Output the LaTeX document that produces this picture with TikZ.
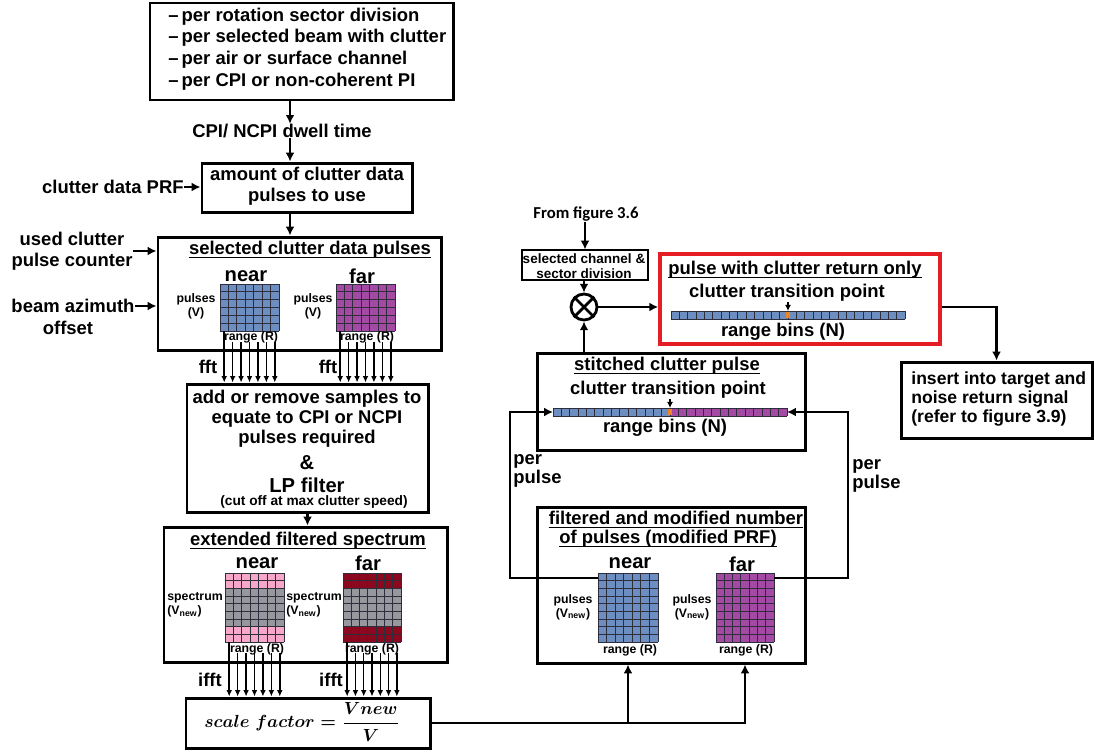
\documentclass[tikz,border=0pt]{standalone}
\usepackage{amsmath}
\usepackage{fontspec}
\setmainfont{Liberation Sans}
\newfontfamily\calfont{Carlito}
\usetikzlibrary{arrows.meta,fit,calc}

\definecolor{nearblue}{RGB}{108,142,192}
\definecolor{farpurple}{RGB}{164,74,164}
\definecolor{specpink}{RGB}{247,168,200}
\definecolor{specgray}{RGB}{150,152,158}
\definecolor{specred}{RGB}{140,8,30}
\definecolor{markorange}{RGB}{240,130,40}
\definecolor{boxred}{RGB}{228,30,36}
\definecolor{cellline}{RGB}{45,45,60}

% grid of cells: x0, y0, x1, y1, columns, rows
\newcommand\cellgrid[6]{%
  \foreach \k in {0,...,#5}
    \draw[cell] ({#1+(#3-#1)*\k/#5},#2) -- ({#1+(#3-#1)*\k/#5},#4);
  \foreach \k in {0,...,#6}
    \draw[cell] (#1,{#2+(#4-#2)*\k/#6}) -- (#3,{#2+(#4-#2)*\k/#6});
}
% rule under a title node, just below its baseline
\newcommand\titlerule[1]{%
  \draw[line width=0.8pt] ($(#1.base west)+(0,2.6)$) -- ($(#1.base east)+(0,2.6)$);
}
\newcommand\scaleformula{$scale\;factor=\dfrac{Vnew}{V}$}

\begin{document}
\begin{tikzpicture}[x=0.02cm,y=-0.02cm,
  box/.style={draw, line width=1.7pt, inner sep=0pt},
  lbl/.style={font=\bfseries\fontsize{10.5}{11.8}\selectfont, inner sep=0pt, align=center},
  tiny/.style={font=\bfseries\fontsize{7}{7.8}\selectfont, inner sep=0pt, align=center},
  big/.style={font=\bfseries\fontsize{11.5}{13}\selectfont, inner sep=0pt},
  mathtxt/.style={font=\fontsize{9.6}{11}\selectfont\boldmath, inner sep=0pt},
  arr/.style={line width=1.2pt, -{Latex[length=5pt,width=5pt]}},
  farr/.style={line width=0.85pt, -{Latex[length=3.6pt,width=3.2pt]}},
  sarr/.style={line width=1pt, -{Latex[length=3.5pt,width=3.5pt]}},
  cell/.style={line width=0.45pt, draw=cellline},
  gridbox/.style={inner sep=0pt, outer sep=0pt},
]
\useasboundingbox (0,0) rectangle (1094,751);

% ---------------- left column ----------------
\node[box, fit={(150,3) (453,100)}] (top) {};
\node[lbl, anchor=west, align=left, font=\bfseries\fontsize{10.5}{12.3}\selectfont] (toptxt) at (168,49) {–\,per rotation sector division\\–\,per selected beam with clutter\\–\,per air or surface channel\\–\,per CPI or non-coherent PI};

\coordinate (spine) at (290,0);
\node[lbl] (dwell) at (282,131) {CPI/ NCPI dwell time};
\draw[arr] (top.south -| spine) -- (dwell.north -| spine);

\node[box, fit={(202,163) (412,212)}] (amount) {};
\node[lbl] (amounttxt) at (307,186) {amount of clutter data\\pulses to use};
\draw[arr] (dwell.south -| spine) -- (amount.north -| spine);

\node[lbl, anchor=east] (prf) at (184,187) {clutter data PRF};
\draw[arr] (prf.east) -- (prf.east -| amount.west);

% selected clutter data pulses
\node[box, fit={(158,237) (441,350)}] (sel) {};
\draw[arr] (amount.south -| spine) -- (sel.north -| spine);
\node[lbl] (seltitle) at (310,250) {selected clutter data pulses};
\titlerule{seltitle}
\node[big] (selnear) at (246,276) {near};
\node[big] (selfar) at (362,276) {far};

\fill[nearblue] (220,284) rectangle (279,331);
\cellgrid{220}{284}{279}{331}{7}{6}
\node[gridbox, fit={(220,284) (279,331)}] (g1) {};
\fill[farpurple] (336,284) rectangle (395,331);
\cellgrid{336}{284}{395}{331}{7}{6}
\node[gridbox, fit={(336,284) (395,331)}] (g2) {};

\node[tiny] (p1) at (196,306) {pulses\\(V)};
\node[tiny] (p2) at (313,306) {pulses\\(V)};
\node[tiny] (r1) at (251,337) {range (R)};
\node[tiny] (r2) at (367,337) {range (R)};

\node[lbl] (ucpc) at (72,251) {used clutter\\pulse counter};
\draw[arr] (ucpc.east) -- (ucpc.east -| sel.west);
\node[lbl] (beam) at (73,306) {beam azimuth};
\node[lbl] (offset) at (68,328) {offset};
\draw[arr] (beam.east) -- (beam.east -| sel.west);

% add / remove samples
\node[box, fit={(187,384) (428,512)}] (addrem) {};
\foreach \i/\dy in {0/0,1/11,2/11,3/11,4/11,5/11,6/11}{
  \coordinate (s) at ($(g1.south west)+({59/7*(\i+0.5)},\dy)$);
  \draw[farr] (s) -- (s |- addrem.north);
  \coordinate (s) at ($(g2.south west)+({59/7*(\i+0.5)},\dy)$);
  \draw[farr] (s) -- (s |- addrem.north);
}
\node[lbl] (fft1) at (208,367) {fft};
\node[lbl] (fft2) at (328,367) {fft};
\node[lbl, font=\bfseries\fontsize{10.5}{11.4}\selectfont] (ar1) at (307,419) {add or remove samples to\\equate to CPI or NCPI\\pulses required};
\node[lbl, font=\bfseries\fontsize{11.5}{13}\selectfont] (ar2) at (307,463) {\&};
\node[lbl, font=\bfseries\fontsize{11.5}{13}\selectfont] (ar3) at (307,485) {LP filter};
\node[lbl, font=\bfseries\fontsize{7.8}{9}\selectfont] (ar4) at (314,502) {(cut off at max clutter speed)};

% extended filtered spectrum
\node[box, fit={(164,527) (447,662)}] (ext) {};
\draw[arr] (addrem.south) -- (addrem.south |- ext.north);
\node[lbl] (exttitle) at (308,541) {extended filtered spectrum};
\titlerule{exttitle}
\node[big] (extnear) at (257,563) {near};
\node[big] (extfar) at (368,563) {far};

\fill[specgray] (225,573) rectangle (284,642);
\fill[specpink] (225,573) rectangle (284,588.33);
\fill[specpink] (225,626.67) rectangle (284,642);
\cellgrid{225}{573}{284}{642}{7}{9}
\node[gridbox, fit={(225,573) (284,642)}] (g3) {};
\fill[specgray] (343,573) rectangle (401,642);
\fill[specred] (343,573) rectangle (401,588.33);
\fill[specred] (343,626.67) rectangle (401,642);
\cellgrid{343}{573}{401}{642}{7}{9}
\node[gridbox, fit={(343,573) (401,642)}] (g4) {};

\node[tiny, anchor=west, align=left] (sp1) at (167,605) {spectrum\\(V\textsubscript{new})};
\node[tiny, anchor=west, align=left] (sp2) at (286,605) {spectrum\\(V\textsubscript{new})};
\node[tiny] (r3) at (257,649) {range (R)};
\node[tiny] (r4) at (372,649) {range (R)};

% scale factor
\node[box, fit={(186,698) (430,748)}] (scale) {};
\foreach \i/\dy in {0/0,1/11,2/11,3/11,4/11,5/11,6/11}{
  \coordinate (s) at ($(g3.south west)+({59/7*(\i+0.5)},\dy)$);
  \draw[farr] (s) -- (s |- scale.north);
  \coordinate (s) at ($(g4.south west)+({58/7*(\i+0.5)},\dy)$);
  \draw[farr] (s) -- (s |- scale.north);
}
\node[lbl] (ifft1) at (210,680) {ifft};
\node[lbl] (ifft2) at (331,680) {ifft};
\node[mathtxt] (scaletxt) at (302,722) {\scaleformula};

% ---------------- right column ----------------
\node[inner sep=0pt, font=\calfont\bfseries\fontsize{9.5}{11}\selectfont] (fig) at (586,214) {From figure 3.6};
\node[draw, line width=0.6pt, inner sep=0pt, fit={(522,250) (648,280)}] (chan) {};
\node[lbl, font=\bfseries\fontsize{7.7}{8.8}\selectfont] (chantxt) at (584,266) {selected channel \&\\sector division};
\draw[arr] (fig.south -| chan) -- (chan.north);

\node[circle, draw, line width=1.6pt, minimum size=0.52cm, inner sep=0pt] (mult) at (584,307) {};
\draw[line width=1.6pt] (mult.north east) -- (mult.south west) (mult.north west) -- (mult.south east);
\draw[arr] (chan.south -| mult) -- (mult.north);

% pulse with clutter return only
\node[draw=boxred, line width=2pt, inner sep=0pt, fit={(660,254) (940,344)}] (red) {};
\draw[arr] (mult.east) -- (mult.east -| red.west);
\node[lbl] (redtitle) at (795,270) {pulse with clutter return only};
\titlerule{redtitle}
\node[lbl] (tp1) at (787,293) {clutter transition point};
\fill[nearblue] (671,311) rectangle (905,319);
\cellgrid{671}{311}{905}{319}{28}{1}
\node[gridbox, fit={(671,311) (905,319)}] (bar1) {};
\draw[markorange, line width=1.8pt] (788,311.6) -- (788,318.4);
\coordinate (m1) at (788,311);
\draw[sarr] (tp1.south -| m1) -- (m1);
\node[lbl] (rb1) at (783,332) {range bins (N)};

% insert into return signal
\node[box, fit={(901,362) (1092,438)}] (ins) {};
\node[lbl, anchor=west, align=left, font=\bfseries\fontsize{10}{10.7}\selectfont] (instxt) at (911,399) {insert into target and\\noise return signal\\(refer to figure 3.9)};
\draw[arr] (red.east |- mult) -| (ins.north);

% stitched clutter pulse
\node[box, fit={(537,353) (805,450)}] (stitch) {};
\draw[arr] (stitch.north -| mult) -- (mult.south);
\node[lbl] (sttitle) at (667,366) {stitched clutter pulse};
\titlerule{sttitle}
\node[lbl] (tp2) at (668,390) {clutter transition point};
\fill[nearblue] (553,408) rectangle (670,416);
\fill[farpurple] (670,408) rectangle (787,416);
\cellgrid{553}{408}{787}{416}{28}{1}
\node[gridbox, fit={(553,408) (787,416)}] (bar2) {};
\draw[markorange, line width=1.8pt] (670,408.6) -- (670,415.4);
\coordinate (m2) at (670,408);
\draw[sarr] (tp2.south -| m2) -- (m2);
\node[lbl] (rb2) at (665,428) {range bins (N)};

% filtered and modified number of pulses
\node[box, fit={(537,507) (805,663)}] (filt) {};
\node[lbl] (ft1) at (676,518) {filtered and modified number};
\titlerule{ft1}
\node[lbl] (ft2) at (668,539) {of pulses (modified PRF)};
\titlerule{ft2}
\node[big] (fnear) at (630,563) {near};
\node[big] (ffar) at (742,564) {far};
\fill[nearblue] (598,573) rectangle (658,642);
\cellgrid{598}{573}{658}{642}{7}{9}
\node[gridbox, fit={(598,573) (658,642)}] (g5) {};
\fill[farpurple] (716,573) rectangle (774,642);
\cellgrid{716}{573}{774}{642}{7}{9}
\node[gridbox, fit={(716,573) (774,642)}] (g6) {};
\node[tiny] (p5) at (573,607) {pulses\\(V\textsubscript{new})};
\node[tiny] (p6) at (692,607) {pulses\\(V\textsubscript{new})};
\node[tiny] (r5) at (630,650) {range (R)};
\node[tiny] (r6) at (746,650) {range (R)};

% per-pulse feedback into the stitched pulse
\coordinate (railL) at (510,412);
\coordinate (railR) at (848,412);
\coordinate (l1) at ($(g5.north west)+(0,5)$);
\coordinate (rr1) at ($(g6.north east)+(0,5)$);
\draw[arr] (l1) -| (railL) -- (bar2.west);
\draw[arr] (rr1) -| (railR) -- (bar2.east);
\node[lbl, anchor=west, align=left, font=\bfseries\fontsize{10.5}{10.8}\selectfont] (pp1) at (513,471) {per\\pulse};
\node[lbl, anchor=west, align=left, font=\bfseries\fontsize{10.5}{10.8}\selectfont] (pp2) at (852,476) {per\\pulse};

% scale factor feeds the filtered pulses
\draw[arr] (scale.east) -| (g5.south |- filt.south);
\draw[arr] (g5.south |- scale.east) -| (g6.south |- filt.south);
\end{tikzpicture}
\end{document}
